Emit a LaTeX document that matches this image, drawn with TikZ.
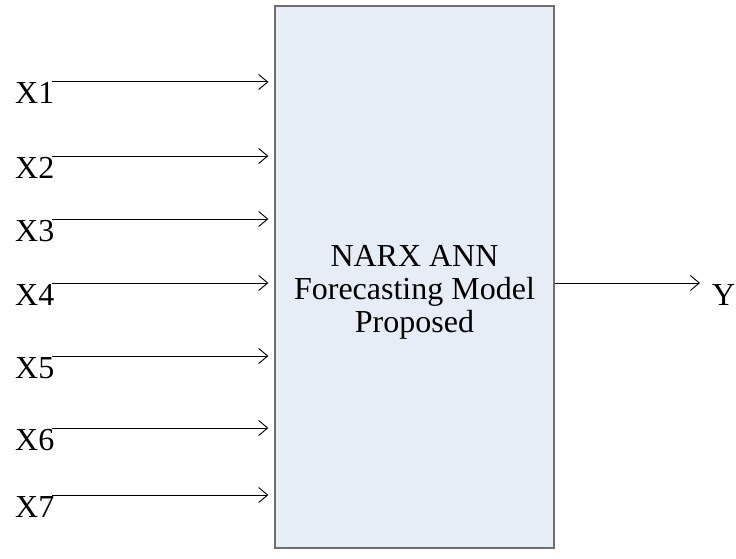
\documentclass[tikz,border=0pt]{standalone}
\usepackage{fontspec}
\setmainfont{Liberation Serif}
\usetikzlibrary{arrows.meta}
\definecolor{boxfill}{HTML}{E6EDF7}
\definecolor{boxedge}{HTML}{6E6E6E}
\begin{document}
\begin{tikzpicture}[x=1pt,y=-1pt,
  lbl/.style={anchor=base west,inner sep=0pt,font=\fontsize{32}{33}\selectfont},
  conn/.style={line width=1pt,-{Straight Barb[length=9pt,width=15pt,line width=0.9pt]}},
  mainbox/.style={draw=boxedge,line width=1.3pt,fill=boxfill,minimum width=279pt,minimum height=542pt,inner sep=0pt},
  title/.style={anchor=base,inner sep=0pt,align=center,font=\fontsize{32}{33}\selectfont}]
\useasboundingbox (0,0) rectangle (736,559);
\node[mainbox] (box) at (414.5,277) {};
\node[title] (t) at (414.5,332) {NARX ANN\\Forecasting Model\\Proposed};
\foreach \i/\yy in {1/82,2/156,3/219,4/283,5/356,6/428,7/495}{
  \node[lbl] (x\i) at (15,\yy+22) {X\i};
  \coordinate (s\i) at (52,\yy);
  \draw[conn,shorten >=6pt] (s\i) -- (s\i -| box.west);
}
\coordinate (yend) at (700,283);
\node[lbl] (y) at (712,305) {Y};
\draw[conn] (box.east |- yend) -- (yend);
\end{tikzpicture}
\end{document}
